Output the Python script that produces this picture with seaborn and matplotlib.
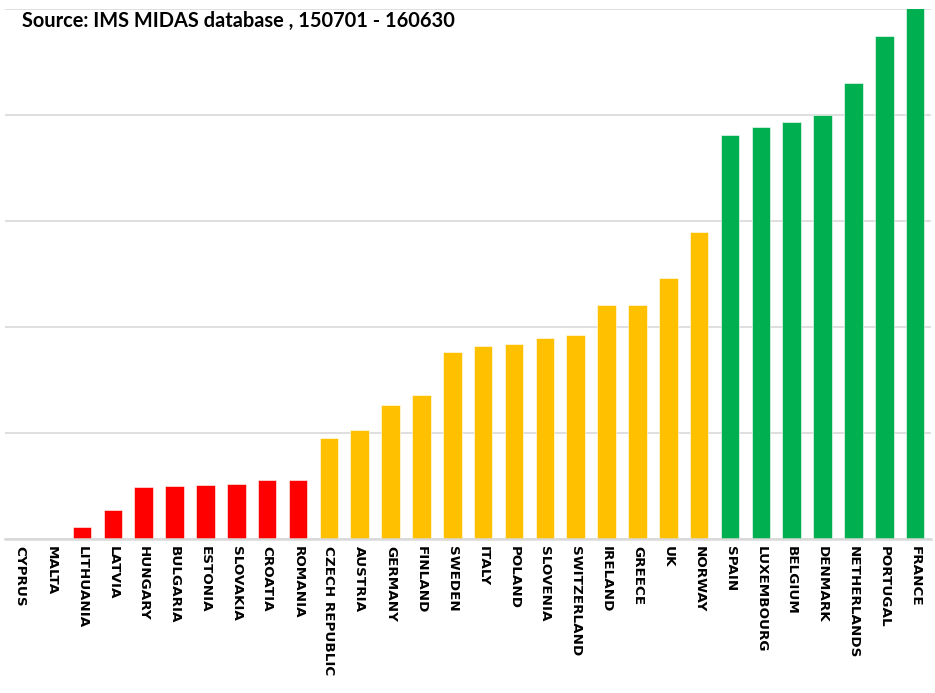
import matplotlib
matplotlib.use("Agg")
import matplotlib.pyplot as plt
import seaborn as sns
import pandas as pd

# values, in gridline units (one gridline = 1.0)
COUNTRIES = [
    "CYPRUS", "MALTA", "LITHUANIA", "LATVIA", "HUNGARY", "BULGARIA", "ESTONIA",
    "SLOVAKIA", "CROATIA", "ROMANIA", "CZECH REPUBLIC", "AUSTRIA", "GERMANY",
    "FINLAND", "SWEDEN", "ITALY", "POLAND", "SLOVENIA", "SWITZERLAND", "IRELAND",
    "GREECE", "UK", "NORWAY", "SPAIN", "LUXEMBOURG", "BELGIUM", "DENMARK",
    "NETHERLANDS", "PORTUGAL", "FRANCE",
]
VALUES = [
    0.0, 0.0, 0.113, 0.274, 0.488, 0.500, 0.509,
    0.522, 0.554, 0.554, 0.953, 1.028, 1.261,
    1.356, 1.767, 1.821, 1.842, 1.896, 1.927, 2.205,
    2.205, 2.465, 2.893, 3.808, 3.884, 3.937, 4.000,
    4.302, 4.745, 5.009,
]
GROUPS = ["low"] * 10 + ["mid"] * 13 + ["high"] * 7
PALETTE = {"low": "#FF0000", "mid": "#FFC000", "high": "#00B050"}
TITLE = "Source: IMS MIDAS database , 150701 - 160630"

df = pd.DataFrame({"country": COUNTRIES, "value": VALUES, "group": GROUPS})

sns.set_style("white")
fig = plt.figure(figsize=(9.35, 6.93), dpi=100)
ax = fig.add_axes([0.0052, 0.2222, 0.9901, 0.7648])

sns.barplot(data=df, x="country", y="value", hue="group", palette=PALETTE,
            dodge=False, width=0.6, legend=False, ax=ax, saturation=1,
            edgecolor="white", linewidth=0.4)

ax.set_ylim(0, 5)
ax.set_xlim(-0.5, len(COUNTRIES) - 0.5)
ax.set_yticks([0, 1, 2, 3, 4, 5])
ax.set_yticklabels([])
ax.yaxis.grid(True, color="#d9d9d9", linewidth=1.2)
ax.set_axisbelow(True)
ax.tick_params(axis="both", length=0)
for side in ["top", "right", "left"]:
    ax.spines[side].set_visible(False)
ax.spines["bottom"].set_color("#d9d9d9")
ax.spines["bottom"].set_linewidth(1.8)
ax.set_xlabel("")
ax.set_ylabel("")

for lab in ax.get_xticklabels():
    lab.set_rotation(270)
    lab.set_ha("center")
    lab.set_va("top")
    lab.set_fontfamily("DejaVu Sans")
    lab.set_fontweight("bold")
    lab.set_fontsize(9.7)
    lab.set_color("black")
ax.tick_params(axis="x", pad=5)

fig.text(0.024, 0.970, TITLE, family="Lato", weight="bold", fontsize=14.4,
         ha="left", va="center", color="black")

fig.savefig("out.png", dpi=100)
